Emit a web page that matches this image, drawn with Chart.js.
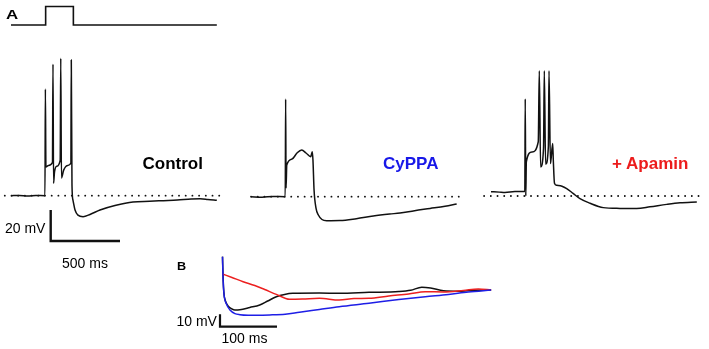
<!DOCTYPE html>
<html>
<head>
<meta charset="utf-8">
<script src="https://cdn.jsdelivr.net/npm/chart.js@4.4.1/dist/chart.umd.min.js"></script>
<style>
  html, body { margin: 0; padding: 0; background: #fff; }
  #wrap { position: relative; width: 709px; height: 349px; overflow: hidden; }
  #c { position: absolute; left: 0; top: 0; }
  .t { position: absolute; white-space: nowrap; font-family: "Liberation Sans", Arial, sans-serif; line-height: 1; }
  .lbl { font-size: 17px; font-weight: bold; }
  .sc { font-size: 14px; }
  .pn { font-weight: bold; transform-origin: left center; color: #000; }
</style>
</head>
<body>
<div id="wrap">
  <canvas id="c" width="709" height="349"></canvas>
  <div class="t pn" style="left:5.8px;top:7.6px;font-size:13px;transform:scaleX(1.3);">A</div>
  <div class="t lbl" style="left:142.5px;top:154.7px;color:#000;">Control</div>
  <div class="t lbl" style="left:383px;top:154.7px;color:#1818e8;">CyPPA</div>
  <div class="t lbl" style="left:612px;top:154.7px;color:#ec1c1c;">+ Apamin</div>
  <div class="t sc" style="left:5px;top:221.2px;">20 mV</div>
  <div class="t sc" style="left:62px;top:255.8px;">500 ms</div>
  <div class="t pn" style="left:177px;top:261px;font-size:11.5px;transform:scaleX(1.1);">B</div>
  <div class="t sc" style="left:176.5px;top:314.2px;">10 mV</div>
  <div class="t sc" style="left:221.5px;top:331.4px;">100 ms</div>
</div>
<script>
// ---------------- data (ms, mV, pA) ----------------
const stimTime = [0, 250, 250, 450, 450, 1485];
const stimCurrent = [0, 0, 100, 100, 0, 0];

const controlTime = [0, 60, 120, 180, 245, 248, 252, 270, 299, 303, 307, 314, 330, 355, 359, 364, 380, 410, 432, 435, 440, 447, 462, 483, 520, 570, 642, 750, 880, 1000, 1100, 1200, 1300, 1364, 1420, 1485];
const controlMv = [-60, -59.8, -60.2, -59.9, -60, 8.8, -41.5, -40.5, -38.6, 24.8, -52, -44.7, -41, -37, 28.6, -48.6, -43.5, -40.5, -38.9, 27.5, -53.1, -62.8, -69.2, -72.5, -73.5, -72.1, -69.2, -66.3, -64, -63.6, -63.2, -62.8, -62.2, -62, -62.4, -63];

const cyppaTime = [0, 80, 160, 247, 250, 253, 258, 296, 332, 366, 397, 431, 442, 447, 455, 469, 486, 512, 546, 642, 760, 882, 1000, 1075, 1180, 1292, 1400, 1484];
const cyppaMv = [-60, -60.3, -59.8, -60, 3.0, -54.4, -39.5, -35.7, -31.8, -29.9, -31.8, -34.2, -31, -36.3, -55.7, -67.3, -71.8, -74.7, -75.5, -75.4, -74.2, -72.5, -71.2, -70.5, -69, -67.6, -66.2, -64.7];

const apaminTime = [0, 60, 101, 173, 244, 247, 251, 255, 296, 341, 348.5, 358, 379, 384.6, 394, 414, 418.5, 429, 445, 449.5, 458, 474, 512, 546, 592, 642, 714, 810, 931, 1051, 1147, 1268, 1364, 1485];
const apaminMv = [-57.2, -57.5, -57.7, -57.1, -57.1, 2.6, -60, -37.9, -31.6, -25, 20.8, -41.3, -29.2, 20.8, -39.5, -27.9, 20.8, -39.1, -26.2, -36.8, -51.7, -53.1, -53.7, -55.2, -58.3, -61.7, -64.7, -67.5, -68, -68.1, -67, -65.4, -64.4, -63.9];

const restMv = -60;
const restSpanControl = [-45, 1530];
const restSpanCyppa = [0, 1545];
const restSpanApamin = [-50, 1530];

// Panel B: AHP after the pulse
const bControlTime = [0, 0.9, 2.3, 5.2, 10.5, 16.6, 21.8, 30.5, 47.9, 65.3, 79.3, 94.4, 108.9, 123.3, 169.9, 204.7, 257, 309.4, 330, 349.6, 365, 387.7, 413.8, 440, 471.3];
const bControlMv = [-36.1, -50.9, -64.6, -71.9, -76.3, -78.3, -79.1, -78.9, -77.1, -75.1, -71.9, -68.4, -66.6, -65.7, -65.4, -65.7, -64.9, -64.2, -63.2, -60.8, -61.4, -63.6, -64, -63.2, -63];
const bApaminTime = [0, 16.6, 36.2, 56.6, 74, 94.4, 117.6, 140.2, 170, 204.7, 230.8, 257, 291.8, 326.6, 355.7, 387.7, 422.6, 448.8, 471.3];
const bApaminMv = [-50.1, -52.9, -56.3, -59.4, -62.6, -66.5, -70.5, -70.3, -69.7, -71.1, -69.9, -69.7, -67.8, -66.2, -64.4, -64.6, -63.4, -62.2, -63];
const bCyppaTime = [0, 0.9, 2.6, 7, 13.1, 21.8, 30.5, 45, 60, 82.8, 110, 135, 169.9, 204.7, 257, 309.4, 355.7, 396.3, 431.2, 471.3];
const bCyppaMv = [-36.1, -53.3, -66.2, -74.3, -79.1, -82, -82.9, -83.3, -83.3, -83.1, -82.5, -80.9, -78.7, -76.5, -73.7, -70.7, -68.4, -66.6, -64.6, -63];

const scaleBarA = { ms: 500, mV: 20 };
const scaleBarB = { ms: 100, mV: 10 };

// ---------------- layout (pixel placement of each panel) ----------------
const W = 709, H = 349;
const pxPerMsA = 69.3 / 500, pxPerMvA = 31 / 20, pxPerPa = 18.5 / 100;
const pxPerMsB = 57 / 100, pxPerMvB = 12.4 / 10;

function xAxis(originPx, pxPerUnit) {
  return { type: 'linear', display: false, min: -originPx / pxPerUnit, max: (W - originPx) / pxPerUnit };
}
function yAxis(originPx, originVal, pxPerUnit) {
  return { type: 'linear', display: false, max: originVal + originPx / pxPerUnit, min: originVal - (H - originPx) / pxPerUnit };
}
function pts(xs, ys) { return xs.map((x, i) => ({ x: x, y: ys[i] })); }
function flat(span, v) { return span.map(x => ({ x: x, y: v })); }

function trace(data, xID, yID, color, width, opts) {
  opts = opts || {};
  return {
    data: data, xAxisID: xID, yAxisID: yID, showLine: true,
    borderColor: color, borderWidth: width, pointRadius: 0, tension: 0,
    cubicInterpolationMode: opts.smooth ? 'monotone' : 'default',
    borderDash: opts.dash || [], borderCapStyle: opts.dash ? 'round' : 'butt',
    borderJoinStyle: 'miter', fill: false
  };
}

const BLK = '#111';
const DOTS = { dash: [0.1, 6.6] };
const SMOOTH = { smooth: true };
const datasets = [
  trace(pts(stimTime, stimCurrent), 'xCtrl', 'yStim', BLK, 1.6),
  trace(flat(restSpanControl, restMv), 'xCtrl', 'yCtrl', BLK, 1.8, DOTS),
  trace(flat(restSpanCyppa, restMv), 'xCyp', 'yCyp', BLK, 1.8, DOTS),
  trace(flat(restSpanApamin, restMv), 'xApa', 'yApa', BLK, 1.8, DOTS),
  trace(pts(controlTime, controlMv), 'xCtrl', 'yCtrl', BLK, 1.5, SMOOTH),
  trace(pts(cyppaTime, cyppaMv), 'xCyp', 'yCyp', BLK, 1.5, SMOOTH),
  trace(pts(apaminTime, apaminMv), 'xApa', 'yApa', BLK, 1.5, SMOOTH),
  trace([{x:0,y:scaleBarA.mV},{x:0,y:0},{x:scaleBarA.ms,y:0}], 'xBarA', 'yBarA', BLK, 2.4),
  trace(pts(bCyppaTime, bCyppaMv), 'xB', 'yB', '#1e1ee6', 1.5, SMOOTH),
  trace(pts(bApaminTime, bApaminMv), 'xB', 'yB', '#ec2020', 1.5, SMOOTH),
  trace(pts(bControlTime, bControlMv), 'xB', 'yB', BLK, 1.5, SMOOTH),
  trace([{x:0,y:scaleBarB.mV},{x:0,y:0},{x:scaleBarB.ms,y:0}], 'xBarB', 'yBarB', BLK, 2.2)
];

new Chart(document.getElementById('c'), {
  type: 'scatter',
  data: { datasets: datasets },
  options: {
    responsive: false, animation: false, devicePixelRatio: 1,
    layout: { padding: 0 },
    plugins: { legend: { display: false }, tooltip: { enabled: false } },
    scales: {
      xCtrl: xAxis(11, pxPerMsA),
      xCyp: xAxis(251, pxPerMsA),
      xApa: xAxis(491, pxPerMsA),
      yStim: yAxis(25, 0, pxPerPa),
      yCtrl: yAxis(195.7, restMv, pxPerMvA),
      yCyp: yAxis(196.7, restMv, pxPerMvA),
      yApa: yAxis(196, restMv, pxPerMvA),
      xBarA: xAxis(50.7, pxPerMsA),
      yBarA: yAxis(241, 0, pxPerMvA),
      xB: xAxis(222.5, pxPerMsB),
      yB: yAxis(290, -63, pxPerMvB),
      xBarB: xAxis(220, pxPerMsB),
      yBarB: yAxis(326.7, 0, pxPerMvB)
    }
  }
});
</script>
</body>
</html>
